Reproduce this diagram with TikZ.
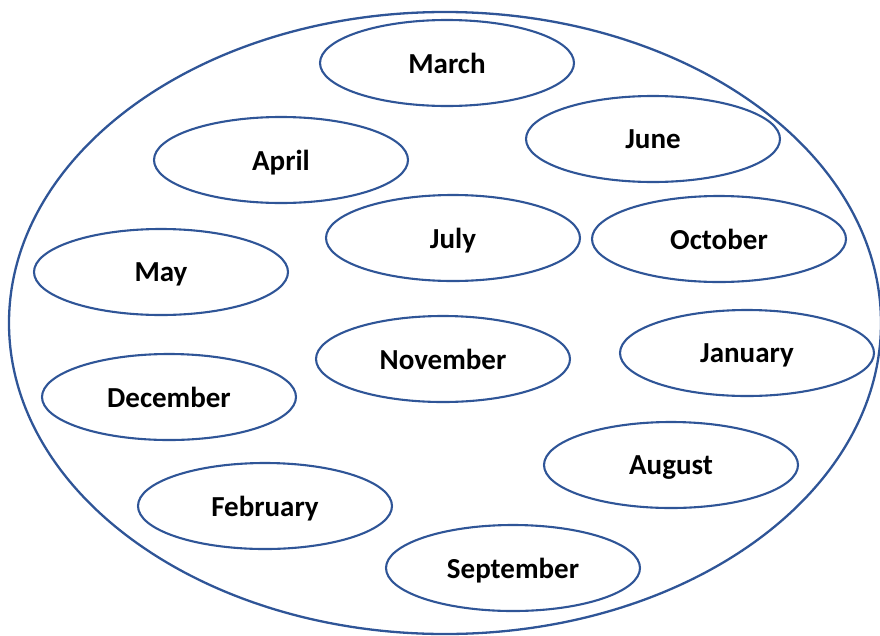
\documentclass[tikz,border=0pt]{standalone}
\usepackage{fontspec}
\setmainfont{Carlito}
\usetikzlibrary{shapes.geometric}
\definecolor{ringblue}{HTML}{2F5597}
\tikzset{
  month/.style={ellipse,draw=ringblue,line width=2.1pt,minimum width=254pt,
    minimum height=86pt,inner sep=0pt,text depth=0pt,
    font=\fontsize{29}{33}\selectfont\bfseries},
}
\begin{document}
\begin{tikzpicture}[x=1pt,y=-1pt]
  \useasboundingbox (0,0) rectangle (880,635);
  % outer set
  \draw[ringblue,line width=2.3pt] (445,323) ellipse [x radius=436, y radius=311];
  % months inside
  \foreach \x/\y/\name in {447/63/March,653/139/June,281/160/April,453/238/July,
      719/239/October,161/272/May,443/359/November,747/353/January,
      169/397/December,671/465/August,265/506/February,513/568/September} {
    \node[month] (\name) at (\x,\y) {\name};
  }
\end{tikzpicture}
\end{document}
